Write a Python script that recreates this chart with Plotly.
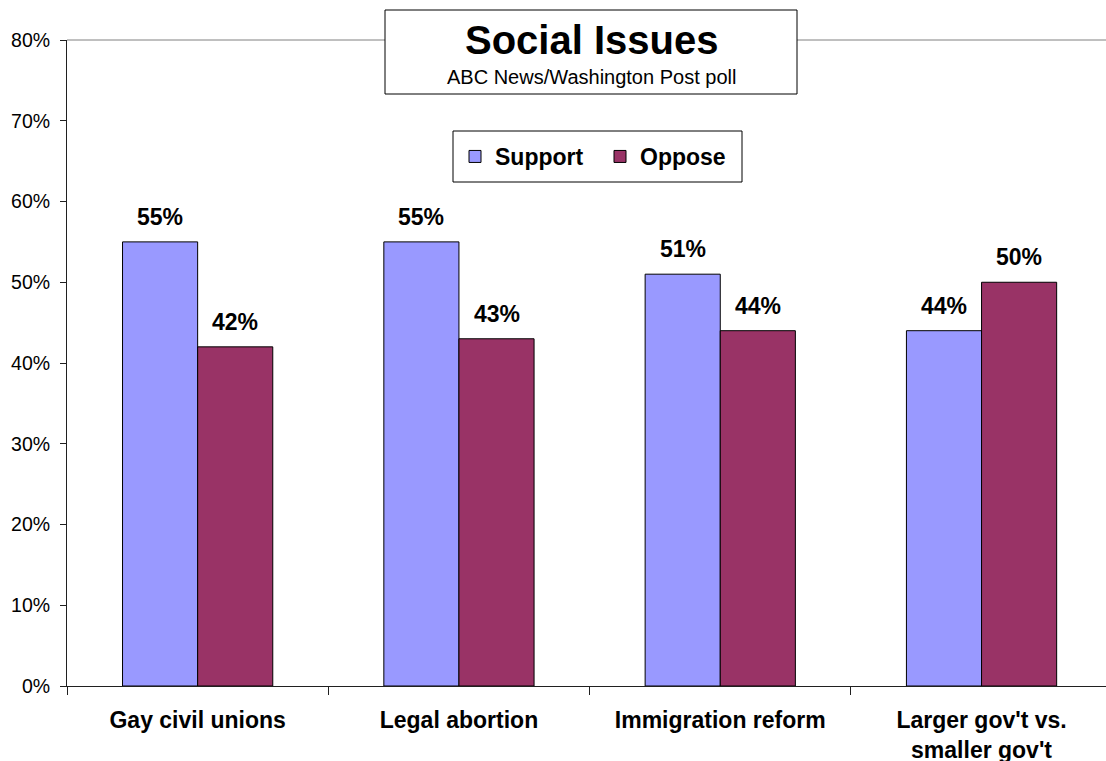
import plotly.graph_objects as go

categories = ["Gay civil unions", "Legal abortion", "Immigration reform", "Larger gov't vs.<br>smaller gov't"]
support = [55, 55, 51, 44]
oppose = [42, 43, 44, 50]
series_names = ["Support", "Oppose"]
colors = ["#9999FF", "#993366"]
y_ticks = [0, 10, 20, 30, 40, 50, 60, 70, 80]

xpos = list(range(len(categories)))
FONT = "Liberation Sans, Arial, sans-serif"

# page-pixel helpers (plot area spans x 67..1106, y 40..686)
def px(x):
    return (x - 67) / 1039

def py(y):
    return (686 - y) / 646

fig = go.Figure()
for name, vals, col in zip(series_names, [support, oppose], colors):
    fig.add_trace(go.Bar(
        x=xpos, y=vals, name=name,
        marker=dict(color=col, line=dict(color="black", width=1)),
    ))

# value labels
half = (1 - 0.425) / 4
annotations = []
for sign, vals in [(-1, support), (1, oppose)]:
    for i, v in enumerate(vals):
        annotations.append(dict(
            x=i + sign * half, y=v, xref="x", yref="y",
            text=f"<b>{v}%</b>", showarrow=False,
            yanchor="bottom", yshift=10,
            font=dict(family=FONT, size=23, color="black"),
        ))

# title box text
annotations.append(dict(
    x=px(591), y=py(40), xref="paper", yref="paper",
    text="<b>Social Issues</b>", showarrow=False, xanchor="center", yanchor="middle",
    font=dict(family=FONT, size=40, color="black"),
))
annotations.append(dict(
    x=px(591), y=py(77), xref="paper", yref="paper",
    text="ABC News/Washington Post poll", showarrow=False, xanchor="center", yanchor="middle",
    font=dict(family=FONT, size=20, color="black"),
))

shapes = [
    dict(type="line", xref="paper", yref="paper", x0=0, x1=1, y0=1, y1=1,
         line=dict(color="#808080", width=1), layer="below"),
    dict(type="rect", xref="paper", yref="paper",
         x0=px(385), x1=px(797), y0=py(94), y1=py(10),
         line=dict(color="black", width=1), fillcolor="white", layer="above"),
    # legend frame
    dict(type="rect", xref="paper", yref="paper",
         x0=px(453), x1=px(742), y0=py(182), y1=py(131),
         line=dict(color="black", width=1), fillcolor="white", layer="above"),
]

fig.update_layout(
    width=1106, height=761,
    margin=dict(l=67, r=0, t=40, b=75),
    paper_bgcolor="white", plot_bgcolor="white",
    barmode="group", bargap=0.425, bargroupgap=0,
    showlegend=True,
    legend=dict(
        orientation="h", x=px(455), y=py(156.5),
        xanchor="left", yanchor="middle",
        bgcolor="rgba(0,0,0,0)", borderwidth=0,
        font=dict(family=FONT, size=23, color="black", weight="bold"),
        traceorder="normal",
        entrywidth=100,
    ),
    font=dict(family=FONT, color="black"),
    xaxis=dict(
        range=[-0.5, -0.5 + 1039 / 261.3],
        tickvals=xpos, ticktext=[f"<b>{c}</b>" for c in categories],
        ticks="", showgrid=False, zeroline=False, automargin=False,
        showline=True, linecolor="#202020", linewidth=1,
        tickfont=dict(family=FONT, size=23, color="black"),
        ticklabelstandoff=13,
        minor=dict(tickvals=[-0.5, 0.5, 1.5, 2.5, 3.5], ticks="outside",
                   ticklen=8, tickcolor="#202020", tickwidth=1),
    ),
    yaxis=dict(
        range=[0, 80], tickvals=y_ticks, ticktext=[f"{t}%" for t in y_ticks],
        ticks="outside", ticklen=6, tickcolor="#202020", automargin=False,
        showgrid=False, zeroline=False,
        showline=True, linecolor="#202020", linewidth=1,
        tickfont=dict(family=FONT, size=19.5, color="black"),
        ticklabelstandoff=6,
    ),
    annotations=annotations,
    shapes=shapes,
)

fig.write_html("out.html", config={"displayModeBar": False},
               post_script="document.body.style.margin='0';")
